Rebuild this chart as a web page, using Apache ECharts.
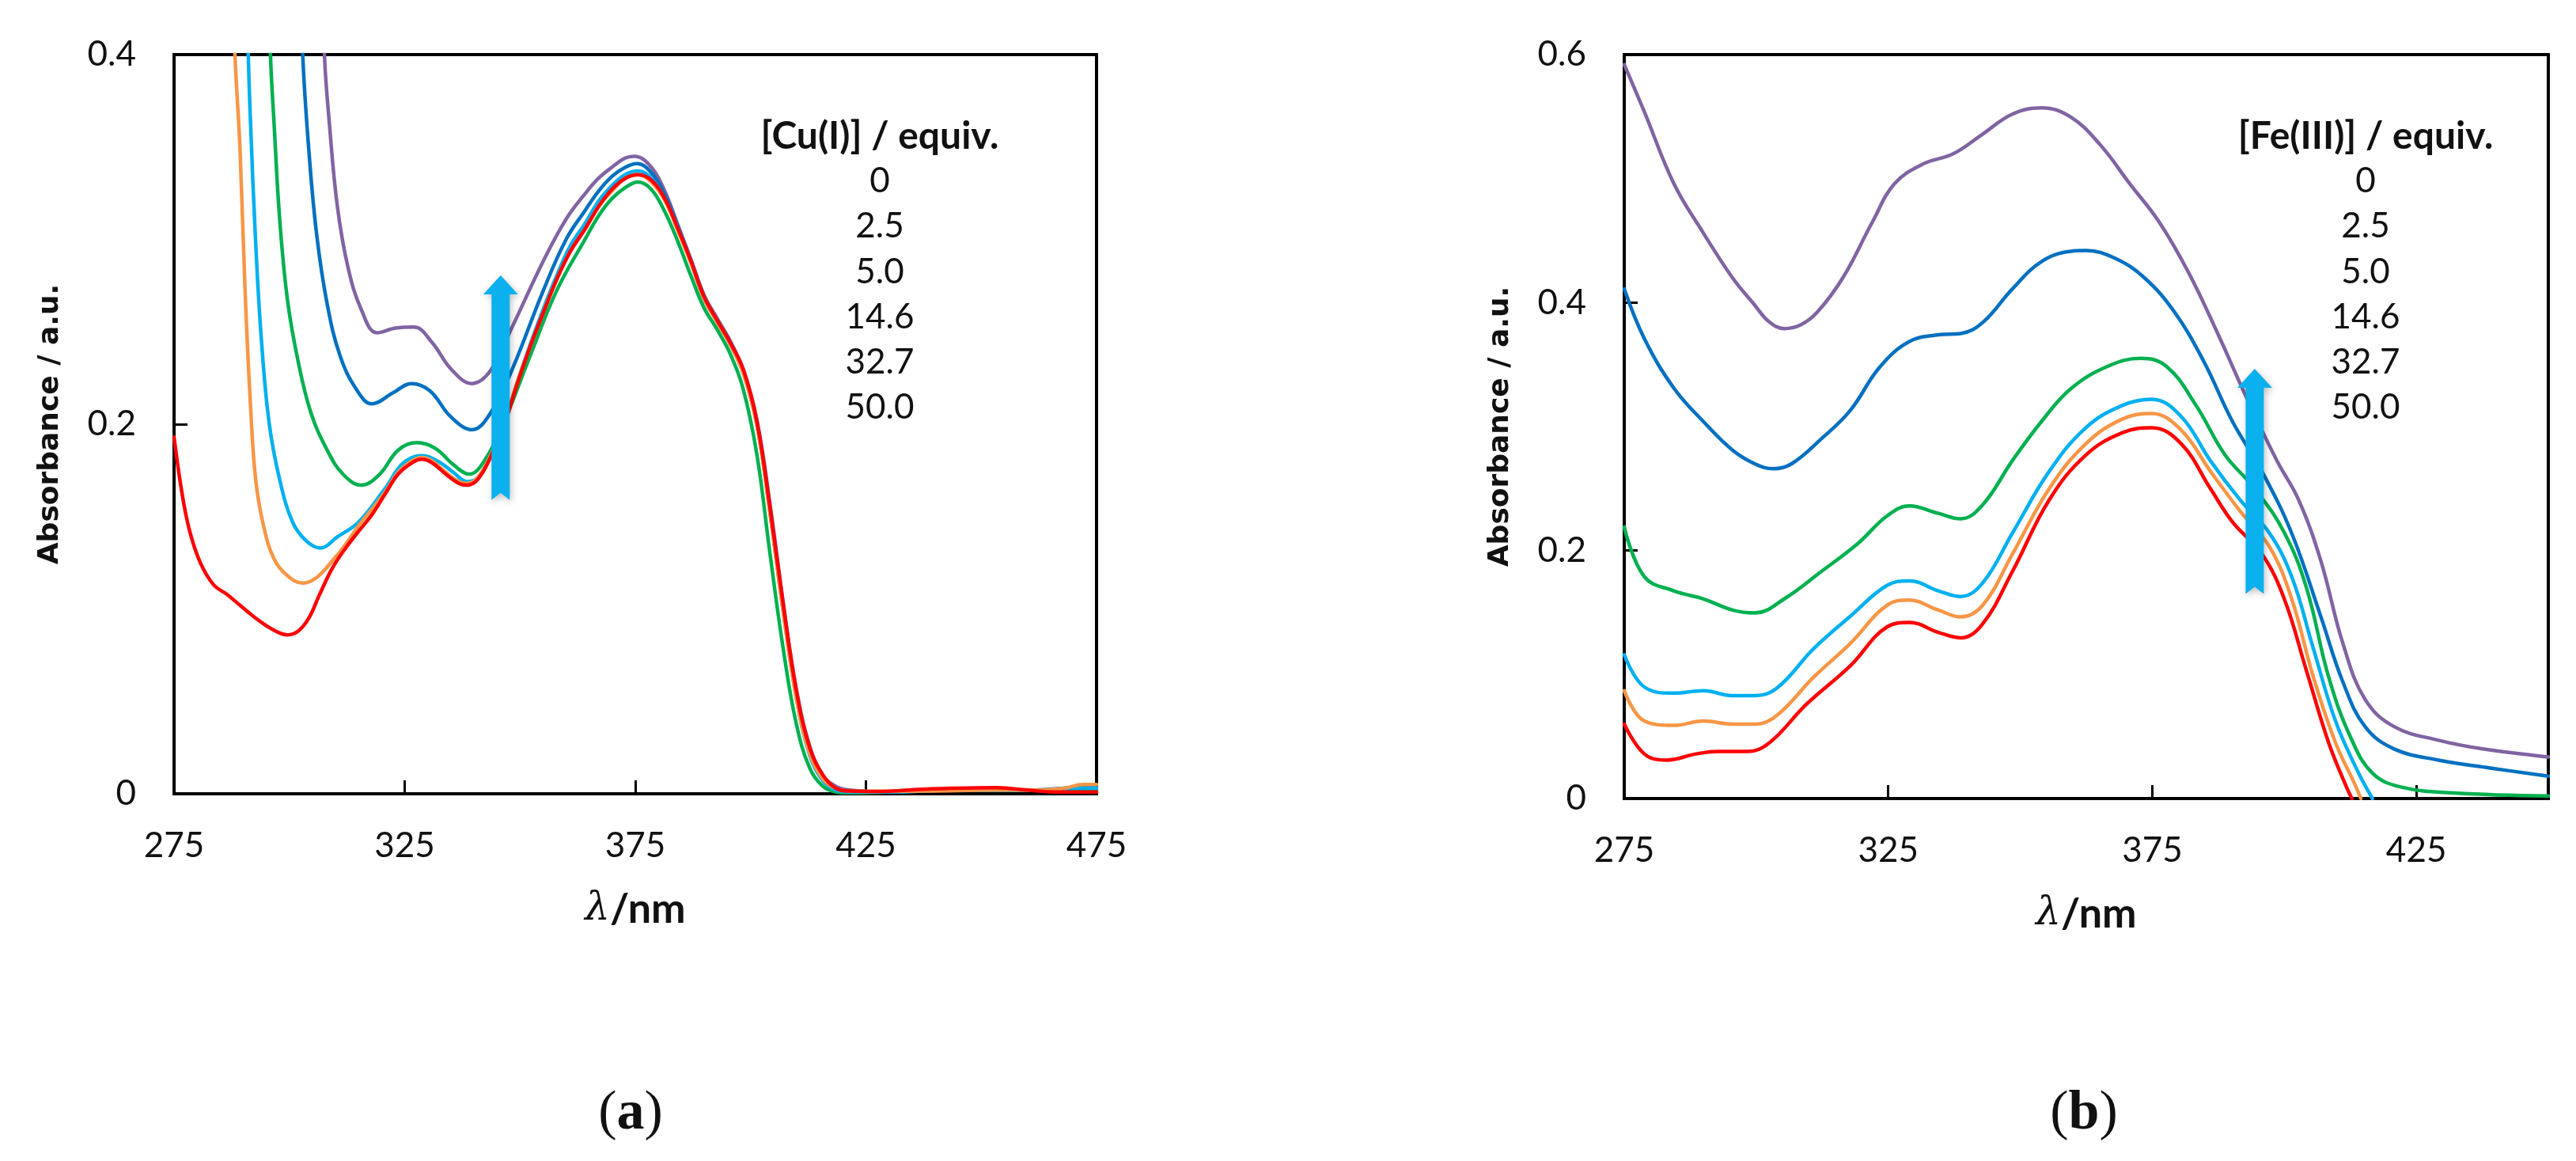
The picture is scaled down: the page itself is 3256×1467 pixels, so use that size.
<!DOCTYPE html>
<html><head><meta charset="utf-8">
<script src="https://cdn.jsdelivr.net/npm/echarts@6.0.0/dist/echarts.min.js"></script>
<style>html,body{margin:0;padding:0;background:#fff}#c{width:3256px;height:1467px}</style>
</head><body><div id="c"></div><script>
// ---------- data ----------
const equivLabels = ['0', '2.5', '5.0', '14.6', '32.7', '50.0'];
const seriesColors = ['#FF0000', '#F79646', '#00B0F0', '#00B050', '#0070C0', '#8064A2'];
const cuTitle = '[Cu(I)] / equiv.';
const feTitle = '[Fe(III)] / equiv.';
const xTicksCu = { min: 275, max: 475, interval: 50 };
const xTicksFe = { min: 275, max: 450, interval: 50 };
const yTicksCu = { min: 0, max: 0.4, interval: 0.2 };
const yTicksFe = { min: 0, max: 0.6, interval: 0.2 };

// Panel (a): Cu(I) titration, [wavelength nm, absorbance]
const cu0 = [[275,0.193],[276.7,0.163],[278.4,0.142],[280.7,0.125],[283.6,0.113],[286.4,0.108],[289.3,0.102],[292.2,0.096],[295,0.091],[297.9,0.087],[299.6,0.086],[301.9,0.088],[304.2,0.095],[306.4,0.107],[309.3,0.122],[312.2,0.133],[315,0.142],[317.9,0.151],[320.7,0.162],[323.6,0.173],[326.5,0.179],[328.7,0.181],[331,0.179],[333.9,0.173],[336.7,0.168],[338.5,0.167],[340.8,0.170],[343.6,0.182],[346.5,0.199],[349.3,0.221],[352.2,0.242],[355,0.260],[357.9,0.278],[360.8,0.293],[364.2,0.306],[367.1,0.318],[369.9,0.327],[372.8,0.333],[375.6,0.335],[378.5,0.332],[381.4,0.322],[384.2,0.306],[387.1,0.288],[389.9,0.269],[392.8,0.256],[395.6,0.244],[398.5,0.229],[401.4,0.201],[404.2,0.155],[407.1,0.102],[409.9,0.056],[412.8,0.025],[415.7,0.010],[418.5,0.003],[421.4,0.0015],[427.1,0.0013],[438.5,0.0026],[453.4,0.0033],[460,0.002],[466,0.001],[475,0.001]];
const cu2_5 = [[287.6,0.45],[288.2,0.40],[289.3,0.349],[290.4,0.272],[291.6,0.209],[292.7,0.170],[294.4,0.145],[296.7,0.127],[299.6,0.118],[303,0.114],[305.9,0.117],[309.3,0.126],[312.2,0.135],[315,0.145],[317.9,0.154],[320.7,0.163],[323.6,0.174],[326.5,0.180],[328.7,0.182],[331,0.180],[333.9,0.174],[336.7,0.169],[338.5,0.168],[340.8,0.171],[343.6,0.183],[346.5,0.200],[349.3,0.222],[352.2,0.242],[355,0.260],[357.9,0.278],[360.8,0.293],[364.2,0.306],[367.1,0.318],[369.9,0.326],[372.8,0.333],[375.6,0.335],[378.5,0.331],[381.4,0.321],[384.2,0.305],[387.1,0.287],[389.9,0.268],[392.8,0.255],[395.6,0.243],[398.5,0.227],[401.4,0.199],[404.2,0.152],[407.1,0.098],[409.9,0.052],[412.8,0.022],[415.7,0.008],[418.5,0.003],[421.4,0.0015],[427.1,0.0013],[438.5,0.0015],[453.4,0.002],[462,0.002],[468,0.003],[472,0.005],[475,0.005]];
const cu5 = [[290.8,0.45],[291.1,0.40],[291.6,0.362],[292.7,0.298],[293.9,0.247],[295.6,0.201],[297.9,0.170],[300.7,0.147],[303.6,0.137],[306.7,0.133],[310.4,0.139],[315,0.147],[320.7,0.165],[324.7,0.179],[328.7,0.183],[332.2,0.180],[335.5,0.174],[338.5,0.169],[340.8,0.171],[343.6,0.183],[346.5,0.200],[349.3,0.222],[352.2,0.243],[355,0.262],[357.9,0.280],[360.8,0.296],[364.2,0.309],[367.1,0.321],[369.9,0.329],[372.8,0.335],[375.6,0.337],[378.5,0.333],[381.4,0.322],[384.2,0.306],[387.1,0.287],[389.9,0.268],[392.8,0.255],[395.6,0.243],[398.5,0.227],[401.4,0.199],[404.2,0.152],[407.1,0.098],[409.9,0.052],[412.8,0.021],[415.7,0.007],[418.5,0.002],[421.4,0.001],[430,0.001],[440,0.002],[455,0.002],[465,0.002],[470,0.003],[475,0.003]];
const cu14_6 = [[295.5,0.45],[295.9,0.40],[296.7,0.362],[297.9,0.311],[299.6,0.267],[301.9,0.234],[304.7,0.206],[308.2,0.186],[311.6,0.173],[315.6,0.167],[319.6,0.173],[323.6,0.186],[327.6,0.190],[331.6,0.187],[335.6,0.178],[339,0.173],[342.5,0.181],[346.5,0.201],[352.2,0.237],[357.9,0.272],[364.2,0.3005],[367.1,0.313],[369.9,0.322],[372.8,0.328],[375.6,0.331],[378.5,0.327],[381.4,0.315],[384.2,0.299],[387.1,0.280],[389.9,0.263],[392.8,0.251],[395.6,0.238],[398.5,0.218],[401.4,0.183],[404.2,0.130],[407.1,0.078],[409.9,0.038],[412.8,0.014],[415.7,0.004],[418.5,0.001],[421.4,0.0005],[430,0.001],[445,0.002],[460,0.002],[475,0.002]];
const cu32_7 = [[302.5,0.45],[302.9,0.40],[304.2,0.349],[305.9,0.303],[308.2,0.265],[311,0.237],[314.5,0.219],[317.9,0.211],[322.5,0.217],[326.5,0.222],[330.5,0.218],[335,0.204],[339.6,0.197],[343.6,0.206],[348.2,0.229],[355,0.272],[360,0.300],[364.2,0.316],[367,0.326],[369.9,0.334],[372.8,0.339],[375.4,0.341],[378.5,0.336],[381.4,0.324],[384.2,0.307],[387.1,0.288],[389.9,0.269],[392.8,0.256],[395.6,0.244],[398.5,0.228],[401.4,0.200],[404.2,0.154],[407.1,0.100],[409.9,0.054],[412.8,0.024],[415.7,0.009],[418.5,0.003],[421.4,0.0015],[430,0.001],[445,0.002],[460,0.002],[468,0.003],[472,0.004],[475,0.004]];
const cu50 = [[307.2,0.45],[307.6,0.40],[308.7,0.362],[310.4,0.318],[312.7,0.285],[315.6,0.262],[319,0.2495],[323,0.252],[327,0.2526],[331,0.244],[335,0.230],[339.6,0.222],[343.6,0.229],[348.2,0.252],[355,0.288],[360,0.311],[364.2,0.325],[367,0.333],[369.9,0.339],[372.8,0.344],[374.8,0.345],[378.5,0.339],[381.4,0.326],[384.2,0.308],[387.1,0.289],[389.9,0.270],[392.8,0.257],[395.6,0.245],[398.5,0.229],[401.4,0.202],[404.2,0.157],[407.1,0.103],[409.9,0.057],[412.8,0.026],[415.7,0.010],[418.5,0.004],[421.4,0.002],[430,0.001],[445,0.002],[460,0.002],[475,0.001]];

// Panel (b): Fe(III) titration, [wavelength nm, absorbance]
const fe0 = [[275,0.060],[278.8,0.036],[283,0.031],[288.6,0.036],[292.8,0.038],[298.3,0.038],[302.5,0.045],[309.5,0.076],[317.8,0.107],[324.8,0.1385],[329,0.142],[334.5,0.134],[338.7,0.1296],[342.9,0.141],[348.5,0.183],[355.5,0.241],[362.4,0.277],[369.3,0.295],[374.9,0.299],[380.5,0.286],[386,0.250],[390.2,0.223],[395.8,0.197],[400,0.161],[404.2,0.103],[408.4,0.045],[411.8,0.009],[412.8,0]];
const fe2_5 = [[275,0.087],[278.8,0.0625],[284.4,0.059],[290,0.0625],[295.5,0.060],[299.7,0.060],[303.9,0.067],[310.9,0.098],[317.8,0.125],[324.8,0.156],[329,0.160],[334.5,0.152],[338.7,0.1465],[342.9,0.156],[348.5,0.197],[355.5,0.250],[362.4,0.286],[369.3,0.306],[374.9,0.3105],[380.5,0.297],[386,0.264],[391.6,0.232],[397.2,0.203],[401.4,0.161],[405.5,0.098],[409.7,0.045],[413.2,0.013],[414.5,0]];
const fe5 = [[275,0.116],[278.8,0.090],[284.4,0.085],[290,0.087],[295.5,0.083],[299.7,0.083],[303.9,0.089],[310.9,0.121],[317.8,0.147],[324.8,0.172],[329,0.1756],[334.5,0.1675],[338.7,0.163],[342.9,0.174],[348.5,0.214],[355.5,0.264],[362.4,0.299],[369.3,0.317],[374.9,0.322],[380.5,0.308],[386,0.2725],[391.6,0.241],[397.2,0.214],[401.4,0.179],[405.5,0.121],[409.7,0.0625],[413.9,0.022],[416.7,0]];
const fe14_6 = [[275,0.219],[278.8,0.179],[284.4,0.1675],[290,0.161],[295.5,0.152],[299.7,0.1497],[305.3,0.161],[312.3,0.183],[319.2,0.2055],[324.8,0.228],[329,0.236],[334.5,0.230],[338.7,0.2256],[342.9,0.237],[348.5,0.2725],[354,0.304],[359.6,0.3306],[366.5,0.3485],[372.8,0.355],[377.7,0.3485],[383.3,0.317],[388.8,0.277],[394.4,0.250],[400,0.2145],[404.2,0.170],[408.4,0.098],[412.6,0.049],[416.8,0.020],[422.4,0.009],[432.2,0.0045],[450,0.002]];
const fe32_7 = [[275,0.411],[278.8,0.371],[284.4,0.331],[290,0.304],[295.5,0.281],[299.7,0.270],[303.2,0.266],[306.7,0.270],[312.3,0.290],[317.8,0.313],[323.4,0.348],[329,0.3686],[334.5,0.374],[338.7,0.375],[342.9,0.384],[348.5,0.411],[354,0.433],[359.6,0.4414],[362.4,0.442],[368,0.4356],[373.5,0.420],[379.1,0.393],[384.7,0.353],[390.2,0.304],[395.8,0.2636],[401.4,0.214],[406.9,0.147],[411.1,0.094],[415.3,0.058],[420.8,0.040],[429.2,0.031],[439,0.0246],[450,0.018]];
const fe50 = [[275,0.592],[278.8,0.554],[284.4,0.496],[290,0.456],[295.5,0.420],[299.7,0.398],[302.3,0.385],[305.3,0.379],[308.4,0.382],[311.5,0.392],[316.4,0.420],[322,0.465],[326.2,0.496],[331.7,0.512],[337.3,0.520],[342.9,0.536],[348.5,0.552],[354,0.557],[359.6,0.5495],[365.2,0.527],[370.7,0.496],[376.3,0.465],[381.9,0.424],[387.4,0.375],[393,0.322],[398.6,0.2725],[402.7,0.241],[406.9,0.192],[411.1,0.125],[415.3,0.080],[420.8,0.058],[429.2,0.047],[437.6,0.040],[450,0.0335]];

// Arrow annotations (data coordinates: x, y bottom, y top)
const arrowCu = [345.8, 0.159, 0.2805];
const arrowFe = [394.4, 0.165, 0.3466];

const cuSeries = [cu0, cu2_5, cu5, cu14_6, cu32_7, cu50];
const feSeries = [fe0, fe2_5, fe5, fe14_6, fe32_7, fe50];

// ---------- chart ----------
const TXT = '#111';
const chart = echarts.init(document.getElementById('c'));

function xAxisCfg(idx, t, showMax) {
  return {
    type: 'value', gridIndex: idx, min: t.min, max: t.max, interval: t.interval,
    axisLine: { show: true, lineStyle: { color: '#000', width: 4 } },
    axisTick: { show: true, inside: true, length: 17, lineStyle: { color: '#000', width: 3 } },
    splitLine: { show: false },
    axisLabel: { margin: 44, fontFamily: 'Lato', fontSize: 44, color: TXT, showMaxLabel: showMax },
    name: '{l|λ}{n|/nm}', nameLocation: 'middle', nameGap: 120,
    nameTextStyle: { rich: {
      l: { fontFamily: 'DejaVu Serif', fontStyle: 'italic', fontSize: 50, color: TXT },
      n: { fontFamily: 'Lato', fontWeight: 'bold', fontSize: 52, color: TXT }
    } }
  };
}
function yAxisCfg(idx, t) {
  return {
    type: 'value', gridIndex: idx, min: t.min, max: t.max, interval: t.interval,
    axisLine: { show: true, lineStyle: { color: '#000', width: 4 } },
    axisTick: { show: true, inside: true, length: 17, lineStyle: { color: '#000', width: 3 } },
    splitLine: { show: false },
    axisLabel: { margin: 48, fontFamily: 'Lato', fontSize: 44, color: TXT },
    name: 'Absorbance / a.u.', nameLocation: 'middle', nameGap: 138,
    nameTextStyle: { fontFamily: 'DejaVu Sans', fontWeight: 'bold', fontSize: 36, color: TXT }
  };
}

const series = [];
for (let p = 0; p < 2; p++) {
  const sets = p === 0 ? cuSeries : feSeries;
  for (let i = sets.length - 1; i >= 0; i--) {
    series.push({
      name: equivLabels[i], type: 'line', xAxisIndex: p, yAxisIndex: p,
      data: sets[i], symbol: 'none', showSymbol: false,
      smooth: 0.4, clip: true,
      lineStyle: { color: seriesColors[i], width: 4.5, join: 'round', cap: 'round' },
      itemStyle: { color: seriesColors[i] },
      z: 3
    });
  }
}

const option = {
  animation: false,
  backgroundColor: '#fff',
  grid: [
    { left: 220, top: 69, width: 1166, height: 934, show: true, borderColor: '#000', borderWidth: 4, containLabel: false },
    { left: 2053, top: 69, width: 1168, height: 940, show: true, borderColor: '#000', borderWidth: 4, containLabel: false }
  ],
  xAxis: [xAxisCfg(0, xTicksCu, true), xAxisCfg(1, xTicksFe, false)],
  yAxis: [yAxisCfg(0, yTicksCu), yAxisCfg(1, yTicksFe)],
  series: series
};
chart.setOption(option);

// ---------- annotations ----------
function arrow(p, a) {
  const b = chart.convertToPixel({ xAxisIndex: p, yAxisIndex: p }, [a[0], a[1]]);
  const t = chart.convertToPixel({ xAxisIndex: p, yAxisIndex: p }, [a[0], a[2]]);
  const cx = b[0], yb = b[1], yt = t[1];
  const w = 23, hw = 44, hh = 24, notch = 9;
  return {
    type: 'polygon', z: 10,
    shape: { points: [
      [cx - w / 2, yb], [cx, yb - notch], [cx + w / 2, yb], [cx + w / 2, yt + hh],
      [cx + hw / 2, yt + hh], [cx, yt], [cx - hw / 2, yt + hh], [cx - w / 2, yt + hh]
    ] },
    style: { fill: '#0BB0EE', shadowBlur: 8, shadowColor: 'rgba(0,0,0,0.25)', shadowOffsetX: 2, shadowOffsetY: 3 }
  };
}
function legendTexts(cx, title) {
  const g = [{ type: 'text', z: 10, x: cx, y: 173,
    style: { text: title, fontFamily: 'Lato', fontWeight: 'bold', fontSize: 48, fill: TXT, align: 'center', verticalAlign: 'middle' } }];
  equivLabels.forEach((s, i) => g.push({ type: 'text', z: 10, x: cx, y: 229 + i * 57.2,
    style: { text: s, fontFamily: 'Lato', fontSize: 44, fill: TXT, align: 'center', verticalAlign: 'middle' } }));
  return g;
}
function caption(cx, letter) {
  return { type: 'text', z: 10, x: cx, y: 1408,
    style: { text: '({b|' + letter + '})', fontFamily: 'Liberation Serif', fontSize: 70, fill: TXT, align: 'center', verticalAlign: 'middle',
      rich: { b: { fontFamily: 'Liberation Serif', fontWeight: 'bold', fontSize: 70, fill: TXT } } } };
}
chart.setOption({
  graphic: [arrow(0, arrowCu), arrow(1, arrowFe)]
    .concat(legendTexts(1112, cuTitle))
    .concat(legendTexts(2990, feTitle))
    .concat([caption(797, 'a'), caption(2634, 'b')])
});
</script></body></html>
